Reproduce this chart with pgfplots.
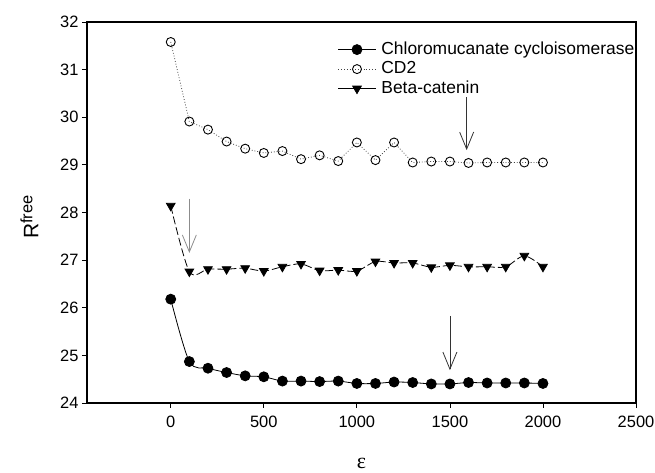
\documentclass[border=0pt]{standalone}
\usepackage{fontspec}
\setmainfont{Liberation Sans}
\newfontfamily\epsfont{Liberation Serif}
\usepackage{pgfplots}
\pgfplotsset{compat=1.18}
\usetikzlibrary{arrows.meta}
\begin{document}
\begin{tikzpicture}
\begin{axis}[
  name=ax,
  scale only axis, width=549bp, height=381bp,
  xmin=-450, xmax=2500, ymin=24, ymax=32,
  xtick={0,500,...,2500}, ytick={24,25,...,32},
  xtick pos=left, ytick pos=left,
  tick align=outside, major tick length=5bp,
  tick style={line width=0.8bp, black},
  axis line style={line width=1.2bp},
  /pgf/number format/assume math mode=true,
  /pgf/number format/1000 sep={},
  ticklabel style={font=\fontsize{16.5}{18}\selectfont},
  xticklabel style={yshift=-5bp},
  xlabel={\epsfont\fontsize{22}{24}\selectfont ε},
  xlabel style={at={(axis description cs:0.5,0)}, anchor=center, yshift=-60bp},
  ylabel={\fontsize{21}{22}\selectfont R\raisebox{6bp}{\fontsize{16.5}{18}\selectfont free}},
  ylabel style={at={(axis description cs:-0.088,0.488)}, anchor=south, inner sep=0pt},
  legend style={at={(rel axis cs:0.457,0.953)}, anchor=north west, draw=none, fill=none,
    font=\fontsize{17.5}{19}\selectfont, row sep=0.5bp, column sep=4bp, inner sep=0pt,
    nodes={inner sep=1.5bp, text height=12.5bp, text depth=3.5bp}, cells={anchor=west}},
  legend image code/.code={\draw[mark repeat=2,mark phase=2] plot coordinates {(0bp,0bp) (18.5bp,0bp) (37bp,0bp)};},
]
\addplot[black, line width=0.8bp, smooth, mark=*, mark size=5bp, mark options={solid, fill=black}] coordinates {
(0,26.18) (100,24.87) (200,24.73) (300,24.64) (400,24.57) (500,24.55) (600,24.46) (700,24.46)
(800,24.45) (900,24.46) (1000,24.41) (1100,24.41) (1200,24.44) (1300,24.43) (1400,24.40)
(1500,24.40) (1600,24.43) (1700,24.42) (1800,24.42) (1900,24.42) (2000,24.41)};
\addlegendentry{Chloromucanate cycloisomerase}
\addplot[black!75, dotted, line width=0.8bp, mark=o, mark size=4.5bp, mark options={solid, black, line width=0.9bp, fill=white}] coordinates {
(0,31.58) (100,29.91) (200,29.74) (300,29.49) (400,29.34) (500,29.25) (600,29.29) (700,29.12)
(800,29.20) (900,29.08) (1000,29.47) (1100,29.10) (1200,29.47) (1300,29.05) (1400,29.07)
(1500,29.07) (1600,29.04) (1700,29.05) (1800,29.05) (1900,29.05) (2000,29.05)};
\addlegendentry{CD2}
\addplot[black, line width=0.8bp, dash pattern=on 8bp off 3bp, smooth, mark=triangle*, mark size=5bp, mark options={solid, rotate=180, fill=black},
  legend image code/.code={\draw[solid, mark repeat=2, mark phase=2] plot coordinates {(0bp,0bp) (18.5bp,0bp) (37bp,0bp)};}] coordinates {
(0,28.14) (100,26.76) (200,26.81) (300,26.81) (400,26.83) (500,26.77) (600,26.86) (700,26.92)
(800,26.78) (900,26.79) (1000,26.77) (1100,26.97) (1200,26.94) (1300,26.94) (1400,26.85)
(1500,26.89) (1600,26.86) (1700,26.86) (1800,26.86) (1900,27.09) (2000,26.86)};
\addlegendentry{Beta-catenin}
\draw[black!80, line width=0.8bp, -{Straight Barb[length=17bp,width=14bp]}] (axis cs:1590,30.43) -- (axis cs:1590,29.31);
\draw[black!45, line width=0.8bp, -{Straight Barb[length=17bp,width=14bp]}] (axis cs:100,28.29) -- (axis cs:100,27.15);
\draw[black!80, line width=0.8bp, -{Straight Barb[length=17bp,width=14bp]}] (axis cs:1500,25.83) -- (axis cs:1500,24.69);
\end{axis}
\pgfresetboundingbox
\path ([xshift=-87bp,yshift=-70bp]ax.south west) rectangle ([xshift=19bp,yshift=22bp]ax.north east);
\end{tikzpicture}
\end{document}
